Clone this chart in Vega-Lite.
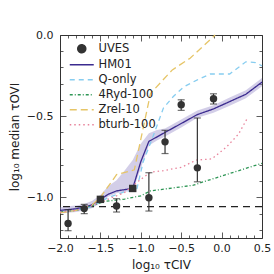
{
  "$schema": "https://vega.github.io/schema/vega-lite/v6.json",
  "width": 202,
  "height": 203,
  "autosize": {"type": "none"},
  "padding": {"left": 60, "top": 35, "right": 12, "bottom": 36},
  "background": "white",
  "config": {
    "view": {"stroke": "#333", "strokeWidth": 1},
    "font": "DejaVu Sans",
    "axis": {"labelFont": "DejaVu Sans", "titleFont": "DejaVu Sans", "labelFontSize": 11, "titleFontSize": 12, "labelColor": "#222", "titleColor": "#222", "titleFontWeight": "normal", "domain": false, "grid": false, "tickColor": "#333", "tickWidth": 0.8},
    "legend": {"labelFont": "DejaVu Sans", "labelFontSize": 11.5, "labelColor": "#222"}
  },
  "datasets": {
    "band": [
      {"x": -2.0, "lo": -1.10, "hi": -1.06}, {"x": -1.9, "lo": -1.095, "hi": -1.055}, {"x": -1.8, "lo": -1.09, "hi": -1.05},
      {"x": -1.7, "lo": -1.08, "hi": -1.04}, {"x": -1.6, "lo": -1.065, "hi": -1.02}, {"x": -1.5, "lo": -1.035, "hi": -0.985},
      {"x": -1.4, "lo": -0.995, "hi": -0.93}, {"x": -1.3, "lo": -0.975, "hi": -0.895}, {"x": -1.2, "lo": -0.965, "hi": -0.835},
      {"x": -1.1, "lo": -0.96, "hi": -0.77}, {"x": -1.0, "lo": -0.82, "hi": -0.67}, {"x": -0.9, "lo": -0.68, "hi": -0.605},
      {"x": -0.8, "lo": -0.65, "hi": -0.585}, {"x": -0.7, "lo": -0.625, "hi": -0.575}, {"x": -0.5, "lo": -0.57, "hi": -0.52},
      {"x": -0.3, "lo": -0.51, "hi": -0.465}, {"x": -0.1, "lo": -0.478, "hi": -0.432}, {"x": 0.1, "lo": -0.435, "hi": -0.385},
      {"x": 0.3, "lo": -0.39, "hi": -0.34}, {"x": 0.5, "lo": -0.315, "hi": -0.265}
    ],
    "lines": [
      {"series": "HM01", "x": -2.0, "y": -1.08}, {"series": "HM01", "x": -1.9, "y": -1.075}, {"series": "HM01", "x": -1.8, "y": -1.07},
      {"series": "HM01", "x": -1.7, "y": -1.06}, {"series": "HM01", "x": -1.6, "y": -1.045}, {"series": "HM01", "x": -1.5, "y": -1.012},
      {"series": "HM01", "x": -1.4, "y": -0.98}, {"series": "HM01", "x": -1.3, "y": -0.96}, {"series": "HM01", "x": -1.2, "y": -0.952},
      {"series": "HM01", "x": -1.1, "y": -0.945}, {"series": "HM01", "x": -1.0, "y": -0.78}, {"series": "HM01", "x": -0.9, "y": -0.655},
      {"series": "HM01", "x": -0.7, "y": -0.6}, {"series": "HM01", "x": -0.5, "y": -0.545}, {"series": "HM01", "x": -0.3, "y": -0.49},
      {"series": "HM01", "x": -0.1, "y": -0.455}, {"series": "HM01", "x": 0.1, "y": -0.41}, {"series": "HM01", "x": 0.3, "y": -0.365},
      {"series": "HM01", "x": 0.5, "y": -0.29},
      {"series": "Q-only", "x": -2.0, "y": -1.09}, {"series": "Q-only", "x": -1.8, "y": -1.08}, {"series": "Q-only", "x": -1.6, "y": -1.055},
      {"series": "Q-only", "x": -1.4, "y": -1.0}, {"series": "Q-only", "x": -1.2, "y": -0.965}, {"series": "Q-only", "x": -1.05, "y": -0.95},
      {"series": "Q-only", "x": -0.97, "y": -0.78}, {"series": "Q-only", "x": -0.86, "y": -0.64}, {"series": "Q-only", "x": -0.72, "y": -0.45},
      {"series": "Q-only", "x": -0.6, "y": -0.38}, {"series": "Q-only", "x": -0.47, "y": -0.32}, {"series": "Q-only", "x": -0.3, "y": -0.276},
      {"series": "Q-only", "x": -0.14, "y": -0.24}, {"series": "Q-only", "x": 0.1, "y": -0.24}, {"series": "Q-only", "x": 0.3, "y": -0.165},
      {"series": "Q-only", "x": 0.42, "y": -0.17}, {"series": "Q-only", "x": 0.5, "y": -0.19},
      {"series": "4Ryd-100", "x": -2.0, "y": -1.09}, {"series": "4Ryd-100", "x": -1.8, "y": -1.08}, {"series": "4Ryd-100", "x": -1.6, "y": -1.05},
      {"series": "4Ryd-100", "x": -1.45, "y": -1.025}, {"series": "4Ryd-100", "x": -1.2, "y": -1.01}, {"series": "4Ryd-100", "x": -1.0, "y": -0.99},
      {"series": "4Ryd-100", "x": -0.88, "y": -0.96}, {"series": "4Ryd-100", "x": -0.35, "y": -0.925}, {"series": "4Ryd-100", "x": -0.2, "y": -0.9},
      {"series": "4Ryd-100", "x": 0.5, "y": -0.79},
      {"series": "Zrel-10", "x": -2.0, "y": -1.095}, {"series": "Zrel-10", "x": -1.8, "y": -1.08}, {"series": "Zrel-10", "x": -1.6, "y": -1.045},
      {"series": "Zrel-10", "x": -1.5, "y": -1.0}, {"series": "Zrel-10", "x": -1.3, "y": -0.86}, {"series": "Zrel-10", "x": -1.08, "y": -0.83},
      {"series": "Zrel-10", "x": -0.88, "y": -0.36}, {"series": "Zrel-10", "x": -0.61, "y": -0.215}, {"series": "Zrel-10", "x": -0.39, "y": -0.143},
      {"series": "Zrel-10", "x": -0.08, "y": 0.0},
      {"series": "bturb-100", "x": -2.0, "y": -1.09}, {"series": "bturb-100", "x": -1.8, "y": -1.08}, {"series": "bturb-100", "x": -1.6, "y": -1.05},
      {"series": "bturb-100", "x": -1.4, "y": -1.01}, {"series": "bturb-100", "x": -1.2, "y": -0.97}, {"series": "bturb-100", "x": -1.03, "y": -0.9},
      {"series": "bturb-100", "x": -0.88, "y": -0.845}, {"series": "bturb-100", "x": -0.72, "y": -0.835}, {"series": "bturb-100", "x": -0.5, "y": -0.815},
      {"series": "bturb-100", "x": -0.31, "y": -0.77}, {"series": "bturb-100", "x": -0.12, "y": -0.763}, {"series": "bturb-100", "x": 0.06, "y": -0.69},
      {"series": "bturb-100", "x": 0.21, "y": -0.61}, {"series": "bturb-100", "x": 0.31, "y": -0.52}
    ],
    "uves": [
      {"series": "UVES", "kind": "circle", "x": -1.9, "y": -1.16},
      {"series": "UVES", "kind": "circle", "x": -1.7, "y": -1.069},
      {"series": "UVES", "kind": "square", "x": -1.5, "y": -1.012},
      {"series": "UVES", "kind": "circle", "x": -1.3, "y": -1.053},
      {"series": "UVES", "kind": "square", "x": -1.1, "y": -0.945},
      {"series": "UVES", "kind": "circle", "x": -0.9, "y": -1.002},
      {"series": "UVES", "kind": "circle", "x": -0.7, "y": -0.658},
      {"series": "UVES", "kind": "circle", "x": -0.5, "y": -0.429},
      {"series": "UVES", "kind": "circle", "x": -0.3, "y": -0.818},
      {"series": "UVES", "kind": "circle", "x": -0.1, "y": -0.393}
    ],
    "err": [
      {"x": -1.9, "lo": -1.205, "hi": -1.075},
      {"x": -1.7, "lo": -1.10, "hi": -1.043},
      {"x": -1.3, "lo": -1.09, "hi": -1.008},
      {"x": -0.9, "lo": -1.084, "hi": -0.848},
      {"x": -0.7, "lo": -0.73, "hi": -0.587},
      {"x": -0.5, "lo": -0.464, "hi": -0.399},
      {"x": -0.3, "lo": -0.904, "hi": -0.511},
      {"x": -0.1, "lo": -0.425, "hi": -0.362}
    ],
    "ref": [{"y": -1.057}]
  },
  "resolve": {"axis": {"x": "independent", "y": "independent"}},
  "layer": [
    {
      "data": {"name": "band"},
      "mark": {"type": "area", "color": "#9d93cc", "opacity": 0.45},
      "encoding": {
        "x": {"field": "x", "type": "quantitative", "scale": {"domain": [-2.0, 0.5], "nice": false, "zero": false},
          "axis": {"orient": "bottom", "values": [-2.0, -1.9, -1.8, -1.7, -1.6, -1.5, -1.4, -1.3, -1.2, -1.1, -1.0, -0.9, -0.8, -0.7, -0.6, -0.5, -0.4, -0.3, -0.2, -0.1, 0.0, 0.1, 0.2, 0.3, 0.4, 0.5],
            "labelExpr": "abs(datum.value*2 - round(datum.value*2)) < 0.001 ? format(datum.value, '.1f') : ''",
            "tickSize": {"condition": {"test": "abs(datum.value*2 - round(datum.value*2)) < 0.001", "value": -6}, "value": -3},
            "labelPadding": 10, "labelFlush": false, "labelOverlap": false, "title": "log₁₀ τCIV", "titlePadding": 3}},
        "y": {"field": "lo", "type": "quantitative", "scale": {"domain": [-1.25, 0.0], "nice": false, "zero": false},
          "axis": {"orient": "left", "values": [-1.2, -1.1, -1.0, -0.9, -0.8, -0.7, -0.6, -0.5, -0.4, -0.3, -0.2, -0.1, 0.0],
            "labelExpr": "abs(datum.value*2 - round(datum.value*2)) < 0.001 ? format(datum.value, '.1f') : ''",
            "tickSize": {"condition": {"test": "abs(datum.value*2 - round(datum.value*2)) < 0.001", "value": -6}, "value": -3},
            "labelPadding": 13, "labelOverlap": false, "title": "log₁₀ median τOVI", "titlePadding": 5}},
        "y2": {"field": "hi"}
      }
    },
    {
      "data": {"name": "ref"},
      "mark": {"type": "rule", "color": "#222", "strokeWidth": 1.3, "strokeDash": [7, 5]},
      "encoding": {"y": {"field": "y", "type": "quantitative", "axis": null}}
    },
    {
      "data": {"name": "lines"},
      "mark": {"type": "line", "strokeWidth": 1.3},
      "encoding": {
        "x": {"field": "x", "type": "quantitative", "axis": null},
        "y": {"field": "y", "type": "quantitative", "axis": null},
        "color": {"field": "series", "type": "nominal",
          "scale": {"domain": ["UVES", "HM01", "Q-only", "4Ryd-100", "Zrel-10", "bturb-100"], "range": ["#333333", "#3b2b8f", "#87cdf0", "#2e9655", "#e6c567", "#e8839b"]},
          "legend": {"orient": "none", "legendX": 16, "legendY": 8, "title": null, "padding": 0, "rowPadding": 2,
            "symbolStrokeWidth": 1.5, "labelOffset": 11, "symbolSize": 64,
            "encode": {"symbols": {"update": {
              "shape": {"signal": "datum.value === 'UVES' ? 'circle' : 'M-3,0H3'"},
              "fill": {"signal": "datum.value === 'UVES' ? '#333333' : 'transparent'"}
            }}}}},
        "strokeDash": {"field": "series", "type": "nominal",
          "scale": {"domain": ["UVES", "HM01", "Q-only", "4Ryd-100", "Zrel-10", "bturb-100"], "range": [[1, 0], [1, 0], [5, 4], [3, 2, 1, 2], [7, 4], [1.5, 3]]},
          "legend": {"orient": "none", "legendX": 16, "legendY": 8, "title": null}}
      }
    },
    {
      "data": {"name": "err"},
      "mark": {"type": "errorbar", "ticks": {"size": 7}, "color": "#333333", "thickness": 1.2},
      "encoding": {
        "x": {"field": "x", "type": "quantitative", "axis": null},
        "y": {"field": "lo", "type": "quantitative", "axis": null},
        "y2": {"field": "hi"}
      }
    },
    {
      "data": {"name": "uves"},
      "mark": {"type": "point", "filled": true, "opacity": 1, "size": 55},
      "encoding": {
        "x": {"field": "x", "type": "quantitative",
          "axis": {"orient": "top", "values": [-2.0, -1.9, -1.8, -1.7, -1.6, -1.5, -1.4, -1.3, -1.2, -1.1, -1.0, -0.9, -0.8, -0.7, -0.6, -0.5, -0.4, -0.3, -0.2, -0.1, 0.0, 0.1, 0.2, 0.3, 0.4, 0.5],
            "labels": false, "title": null,
            "tickSize": {"condition": {"test": "abs(datum.value*2 - round(datum.value*2)) < 0.001", "value": -6}, "value": -3}}},
        "y": {"field": "y", "type": "quantitative",
          "axis": {"orient": "right", "values": [-1.2, -1.1, -1.0, -0.9, -0.8, -0.7, -0.6, -0.5, -0.4, -0.3, -0.2, -0.1, 0.0],
            "labels": false, "title": null,
            "tickSize": {"condition": {"test": "abs(datum.value*2 - round(datum.value*2)) < 0.001", "value": -6}, "value": -3}}},
        "color": {"field": "series", "type": "nominal"},
        "shape": {"field": "kind", "type": "nominal", "scale": {"domain": ["circle", "square"], "range": ["circle", "square"]}, "legend": null}
      }
    }
  ]
}
